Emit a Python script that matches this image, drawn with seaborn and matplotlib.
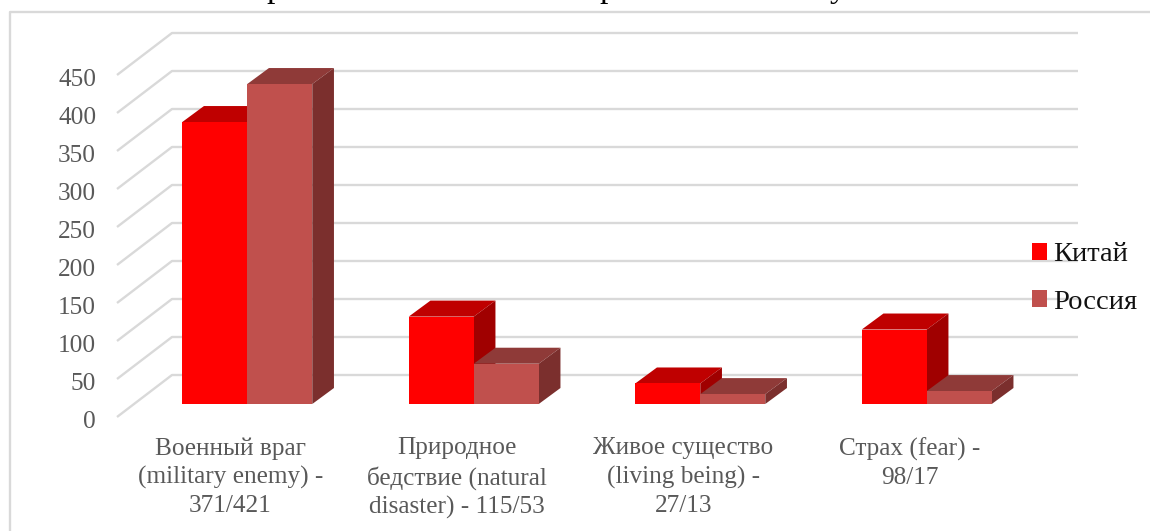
import matplotlib
matplotlib.use("Agg")
import matplotlib.pyplot as plt
from matplotlib.lines import Line2D
from matplotlib.patches import Polygon
from matplotlib.transforms import ScaledTranslation
import pandas as pd
import seaborn as sns

categories = [
    "Военный враг\n(military enemy) -\n371/421",
    "Природное\nбедствие (natural\ndisaster) - 115/53",
    "Живое существо\n(living being) -\n27/13",
    "Страх (fear) -\n98/17",
]
china_values = [371, 115, 27, 98]
russia_values = [421, 53, 13, 17]
series_names = ["Китай", "Россия"]
y_ticks = list(range(0, 451, 50))

FRONT_COLORS = ["#FF0000", "#C0504D"]
TOP_COLORS = ["#BF0000", "#8F3A38"]
SIDE_COLORS = ["#A00000", "#7B2F2D"]
GRID_COLOR = "#D9D9D9"
SERIF = "Liberation Serif"

W, H = 1150, 531
sns.set_theme(style="white")
plt.rcParams["font.family"] = [SERIF, "DejaVu Serif"]

fig = plt.figure(figsize=(W / 100, H / 100), dpi=100, facecolor="white")


def axes_box(left, top, right, bottom):
    return [left / W, 1 - bottom / H, (right - left) / W, (bottom - top) / H]


# Plane through the front of the columns, and the plane of the axis labels below it.
ax = fig.add_axes(axes_box(134, 62, 1040, 404), facecolor="none")
ax_front = fig.add_axes(axes_box(117, 75, 1023, 417), facecolor="none")

frame = pd.DataFrame({
    "category": categories * 2,
    "series": [series_names[0]] * 4 + [series_names[1]] * 4,
    "value": china_values + russia_values,
})
sns.barplot(data=frame, x="category", y="value", hue="series", palette=FRONT_COLORS,
            width=0.574, saturation=1, gap=0, linewidth=0, ax=ax, legend=True)
ax.set_xlim(-0.5, 3.5)
ax.set_ylim(0, 450)
ax.set_axis_off()

px_x = 4 / 906
px_y = 450 / 342

# Receding walls: gridlines on the back plane joined to the label plane by diagonals.
back_dx, back_dy = 38 * px_x, 29 * px_y
front_dx, front_dy = -17 * px_x, -13 * px_y
grid_style = dict(color=GRID_COLOR, lw=1.7, clip_on=False, zorder=1, solid_capstyle="butt")
for tick in y_ticks:
    ax.plot([-0.5 + front_dx, -0.5 + back_dx, 3.5 + back_dx],
            [tick + front_dy, tick + back_dy, tick + back_dy], **grid_style)

# Extrude every column into a box with a top and a side face.
depth_x, depth_y = 21.7 * px_x, 16 * px_y
for i, container in enumerate(ax.containers):
    for bar in container:
        x0, w, h = bar.get_x(), bar.get_width(), bar.get_height()
        x1 = x0 + w
        z = 3 + 2 * i
        ax.add_patch(Polygon([(x0, h), (x1, h), (x1 + depth_x, h + depth_y), (x0 + depth_x, h + depth_y)],
                             closed=True, fc=TOP_COLORS[i], ec="none", zorder=z, clip_on=False))
        ax.add_patch(Polygon([(x1, 0), (x1, h), (x1 + depth_x, h + depth_y), (x1 + depth_x, depth_y)],
                             closed=True, fc=SIDE_COLORS[i], ec="none", zorder=z, clip_on=False))
        bar.set_zorder(z + 1)

handles, labels = ax.get_legend_handles_labels()
ax.get_legend().remove()
fig.legend(handles, labels, loc="center left", bbox_to_anchor=(1032 / W, 1 - 278.5 / H),
           frameon=False, prop={"family": SERIF, "size": 20.5}, labelcolor="#111111",
           handlelength=0.53, handleheight=0.53, handletextpad=0.22, labelspacing=0.78,
           borderpad=0, borderaxespad=0)

ax_front.set_xlim(-0.5, 3.5)
ax_front.set_ylim(0, 450)
ax_front.set_xticks(range(len(categories)), categories)
ax_front.set_yticks(y_ticks)
ax_front.tick_params(axis="both", length=0, labelcolor="#595959", labelsize=18.2)
ax_front.tick_params(axis="x", pad=14.5)
ax_front.tick_params(axis="y", pad=15)
for label in ax_front.get_xticklabels():
    label.set_linespacing(1.36)
# Value labels sit slightly below their gridline ends.
label_shift = ScaledTranslation(0, -2 / 100, fig.dpi_scale_trans)
for label in ax_front.get_yticklabels():
    label.set_transform(label.get_transform() + label_shift)
for side in ax_front.spines.values():
    side.set_visible(False)

# Chart frame, open towards the lower right.
frame_line = dict(color=GRID_COLOR, lw=1.7, transform=fig.transFigure)
fig.add_artist(Line2D([10 / W, 10 / W, 1], [0, 1 - 12 / H, 1 - 12 / H], **frame_line))

# Descenders of the heading line above the frame.
for x, letter in [(275, "р"), (608, "р"), (838, "у")]:
    fig.text(x / W, 1 + 3.5 / H, letter, ha="center", va="baseline", fontsize=24, color="black")

fig.savefig("out.png", dpi=100)
